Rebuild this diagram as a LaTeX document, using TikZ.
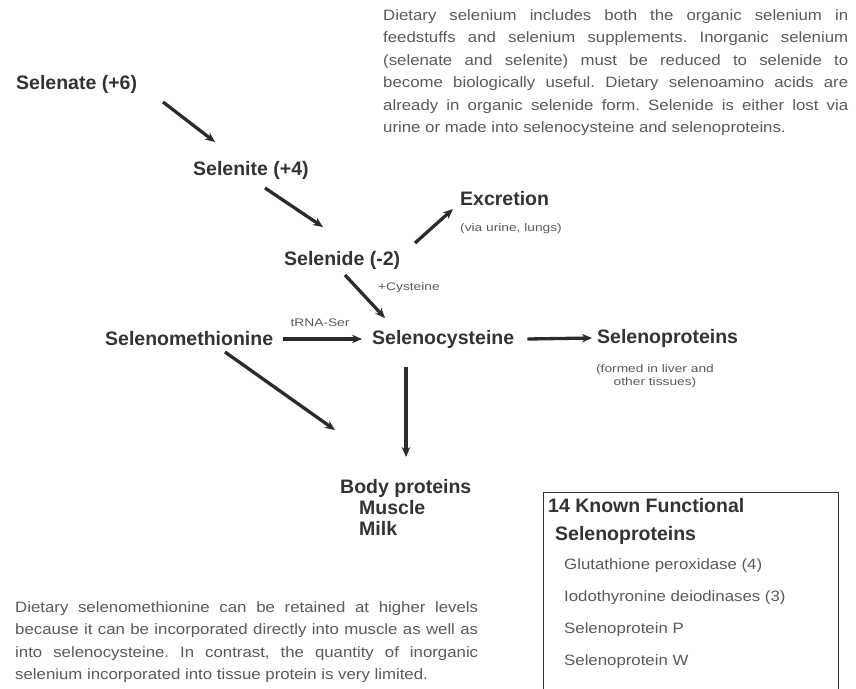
\documentclass[tikz,border=0pt]{standalone}
\usepackage{fontspec}
\setmainfont{Liberation Sans}
\newfontfamily\regfont[FakeStretch=1.12]{Liberation Sans}
\newfontfamily\smallfont[FakeStretch=1.25]{Liberation Sans}
\usetikzlibrary{arrows.meta}
\definecolor{lblc}{HTML}{333333}
\definecolor{txtc}{HTML}{5A5A5A}
\definecolor{arrc}{HTML}{2B2B2B}
\tikzset{
  lbl/.style={font=\bfseries\fontsize{19.5}{22}\selectfont, text=lblc, inner sep=0pt, anchor=west},
  tinytxt/.style={font=\smallfont\fontsize{11}{13}\selectfont, text=txtc, inner sep=0pt},
  para/.style={font=\regfont\fontsize{15}{22.5}\selectfont\frenchspacing, text=txtc, inner sep=0pt, align=justify, text width=465pt, anchor=north west},
  itemtxt/.style={font=\regfont\fontsize{15}{18}\selectfont, text=txtc, inner sep=0pt, anchor=west},
  conn/.style={draw=arrc, line width=3.3pt, -{Stealth[length=10pt,width=8.5pt]}},
}
\begin{document}
\begin{tikzpicture}[x=1pt,y=-1pt]
\useasboundingbox (0,0) rectangle (856,688);
\fill[white] (0,0) rectangle (856,688);

% paragraphs
\node[para] (toppara) at (383,9) {Dietary selenium includes both the organic selenium in\linebreak
feedstuffs and selenium supplements. Inorganic selenium\linebreak
(selenate and selenite) must be reduced to selenide to\linebreak
become biologically useful. Dietary selenoamino acids are\linebreak
already in organic selenide form. Selenide is either lost via\linebreak
urine or made into selenocysteine and selenoproteins.};

\node[para, text width=463pt] (botpara) at (15,601) {Dietary selenomethionine can be retained at higher levels\linebreak
because it can be incorporated directly into muscle as well as\linebreak
into selenocysteine. In contrast, the quantity of inorganic\linebreak
selenium incorporated into tissue protein is very limited.};

% main labels
\node[lbl] (selenate) at (16,84) {Selenate (+6)};
\node[lbl] (selenite) at (193,170) {Selenite (+4)};
\node[lbl] (selenide) at (284,260) {Selenide (-2)};
\node[lbl] (excretion) at (460,199) {Excretion};
\node[tinytxt, anchor=west] (via) at (460,229) {(via urine, lungs)};
\node[lbl] (semet) at (105,339) {Selenomethionine};
\node[lbl] (sec) at (372,339) {Selenocysteine};
\node[lbl] (selprot) at (597,338) {Selenoproteins};
\node[tinytxt, align=center] (formed) at (655,376) {(formed in liver and\\other tissues)};
\node[tinytxt, anchor=west] (cys) at (378,288) {+Cysteine};
\node[tinytxt] (trna) at (320,323) {tRNA-Ser};
\node[lbl] (body) at (340,488) {Body proteins};
\node[lbl] (muscle) at (359,508) {Muscle};
\node[lbl] (milk) at (359,528) {Milk};

% box
\node[draw=lblc, line width=1.3pt, anchor=north west, minimum width=295pt, minimum height=220pt, inner sep=0pt] (box) at (543,492) {};
\node[lbl] (boxtitle) at (548,506) {14 Known Functional};
\node[lbl] (boxtitle2) at (555,535) {Selenoproteins};
\node[itemtxt] (gpx) at (564,566) {Glutathione peroxidase (4)};
\node[itemtxt] (dio) at (564,598) {Iodothyronine deiodinases (3)};
\node[itemtxt] (selp) at (564,630) {Selenoprotein P};
\node[itemtxt] (selw) at (564,662) {Selenoprotein W};

% connectors
\draw[conn] ([shift={(147,18)}]selenate.west) -- ([shift={(22,-28)}]selenite.west);
\draw[conn] ([shift={(72,18)}]selenite.west) -- ([shift={(39,-33)}]selenide.west);
\draw[conn] ([shift={(131,-17)}]selenide.west) -- ([shift={(-7,10)}]excretion.west);
\draw[conn] ([shift={(61,15)}]selenide.west) -- ([shift={(13,-21)}]sec.west);
\draw[conn] ([xshift=10pt]semet.east) -- ([xshift=-10pt]sec.west);
\draw[conn] ([xshift=13pt]sec.east) -- ([xshift=-5pt]selprot.west);
\draw[conn] ([shift={(120,13)}]semet.west) -- ([shift={(-5,-58)}]body.west);
\draw[conn] ([shift={(34,28)}]sec.west) -- ([shift={(66,-31)}]body.west);
\end{tikzpicture}
\end{document}
